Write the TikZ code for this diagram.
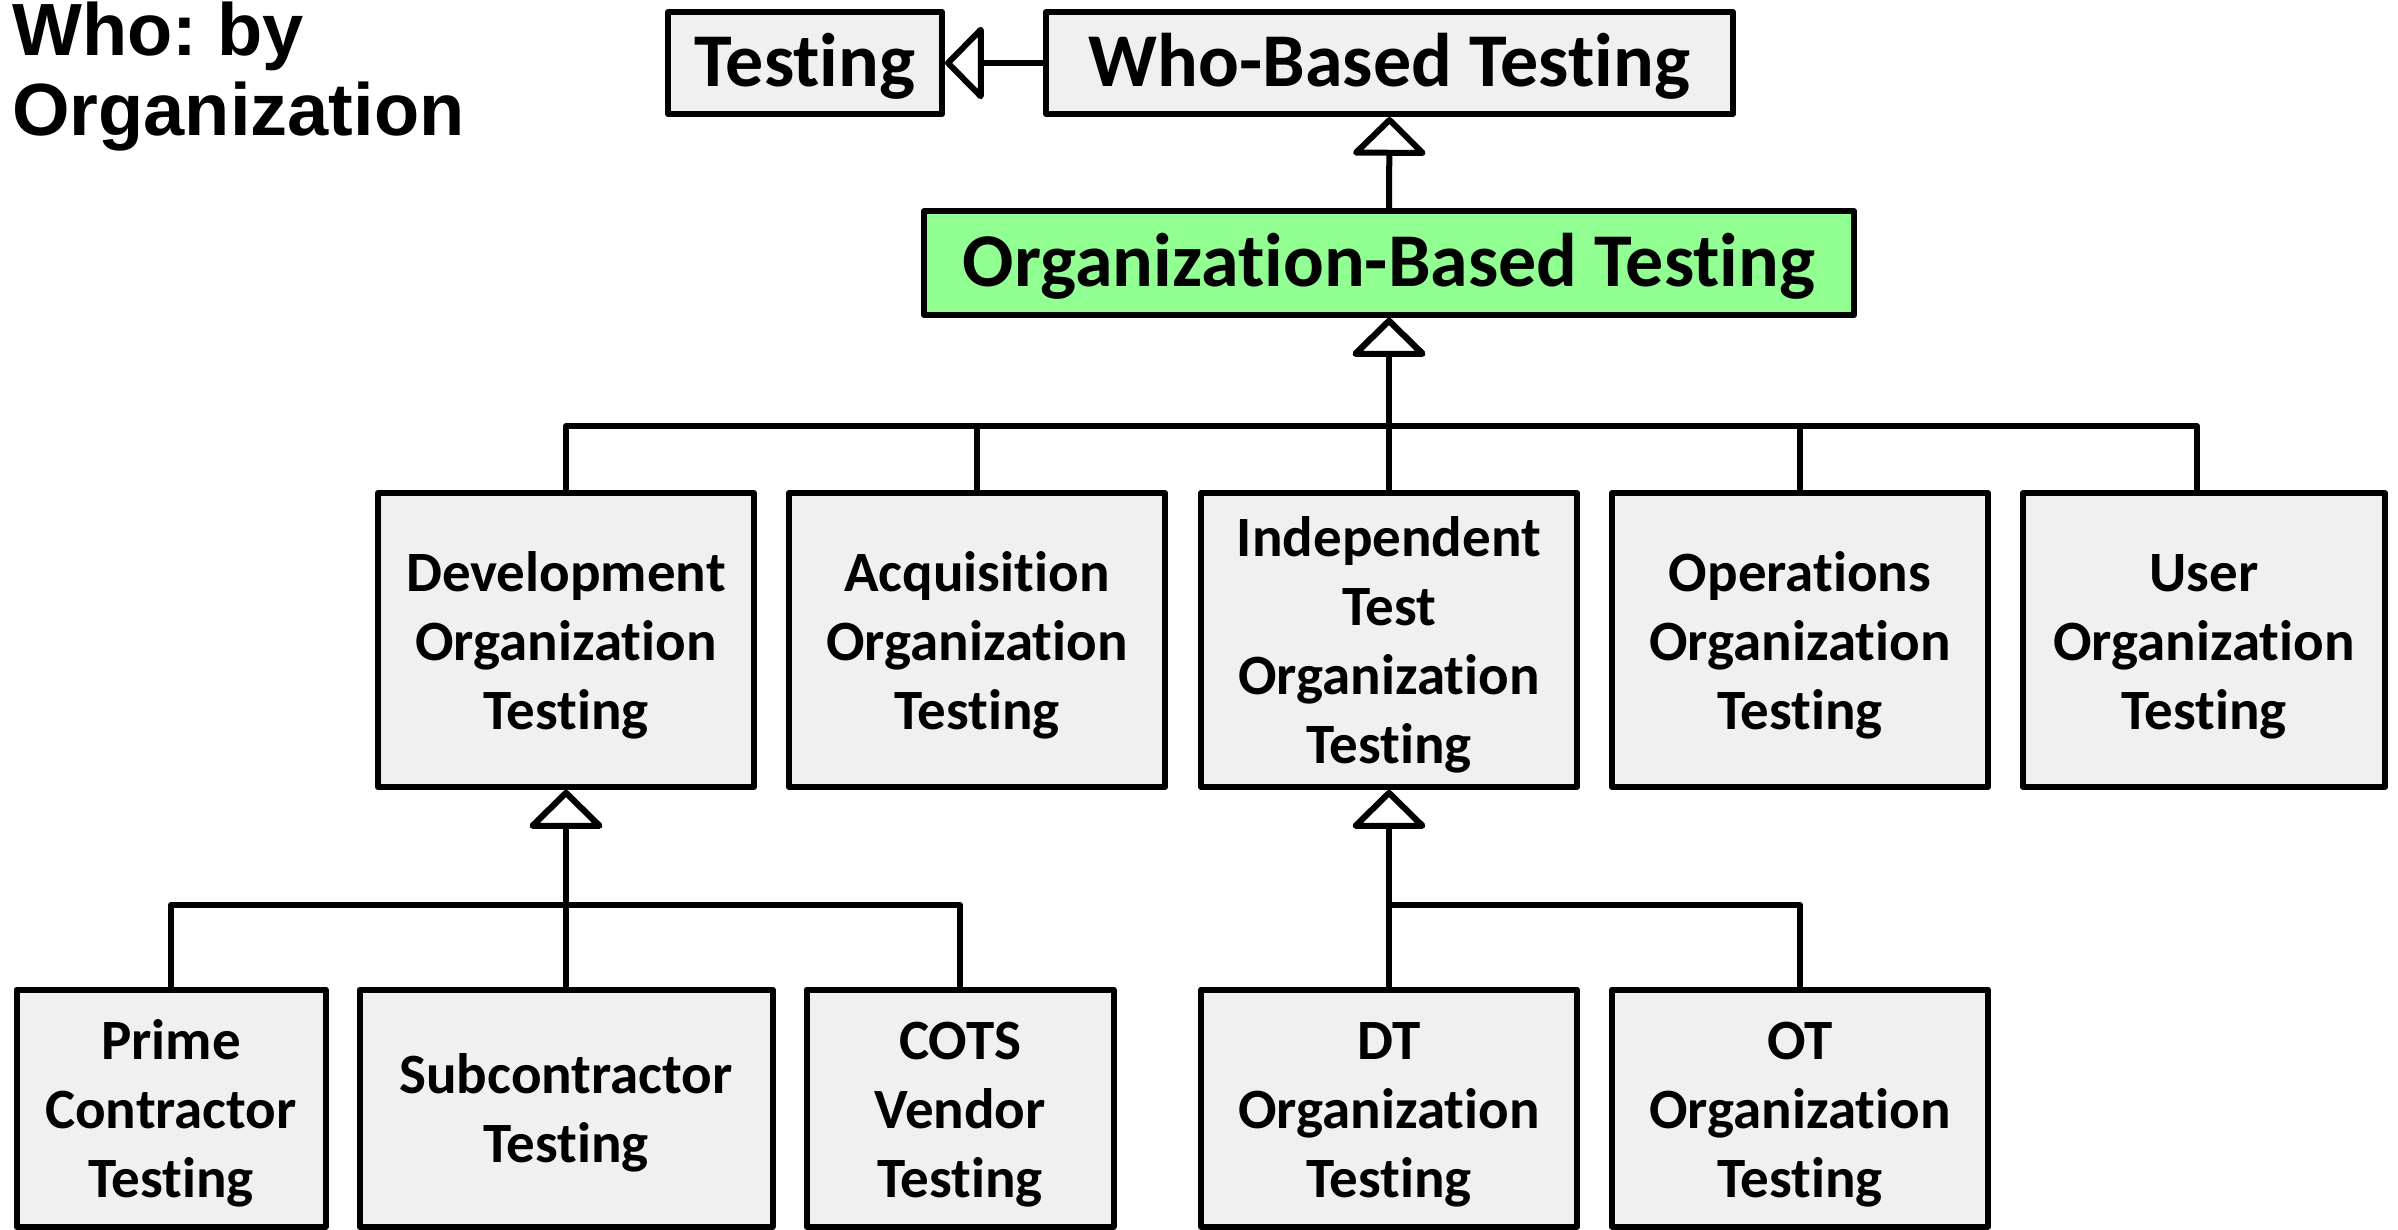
\documentclass[tikz,border=0pt]{standalone}
\usepackage{fontspec}
\newfontfamily\calfont{Carlito}[Ligatures=NoCommon]
\newfontfamily\arialfont{Liberation Sans}
\usetikzlibrary{arrows.meta}
\definecolor{boxgray}{RGB}{240,240,240}
\definecolor{orggreen}{RGB}{146,255,146}
\frenchspacing
\newcommand\rs{\rule{0pt}{0.88em}}
\begin{document}
\begin{tikzpicture}[x=1pt,y=-1pt,
  box/.style={draw=black, line width=6pt, line join=round, fill=boxgray, inner sep=0pt, align=center,
    font=\calfont\bfseries\fontsize{57}{69}\selectfont},
  topbox/.style={box, font=\calfont\bfseries\fontsize{76}{90}\selectfont,
    execute at begin node={\rule{0pt}{0.79em}}},
  row2/.style={box, minimum width=376pt, minimum height=294pt},
  row3/.style={box, minimum height=237pt},
  gen/.style={line width=6pt, line join=round,
    -{Triangle[round, length=40pt, width=80pt, fill=white]}},
]
\useasboundingbox (0,0) rectangle (2398,1229);

% title
\node[anchor=north west, inner sep=0pt, align=left,
  font=\arialfont\bfseries\fontsize{74}{80}\selectfont] (title) at (12,2) {Who: by\\Organization};

% top row
\node[topbox, minimum width=274pt, minimum height=102pt] (testing) at (805,63) {Testing};
\node[topbox, minimum width=687pt, minimum height=102pt] (who) at (1389.5,63) {Who-Based Testing};
\node[topbox, fill=orggreen, minimum width=930pt, minimum height=104pt] (org) at (1389,263) {Organization-Based Testing};

% second row
\node[row2] (dev) at (566,640) {\rs Development\\Organization\\Testing};
\node[row2] (acq) at (977,640) {\rs Acquisition\\Organization\\Testing};
\node[row2] (indep) at (1389,640) {\rs Independent\\Test\\Organization\\Testing};
\node[row2] (ops) at (1800,640) {\rs Operations\\Organization\\Testing};
\node[row2, minimum width=362pt] (user) at (2204,640) {\rs User\\Organization\\Testing};

% third row
\node[row3, minimum width=309pt] (prime) at (171,1108) {\rs Prime\\Contractor\\Testing};
\node[row3, minimum width=413pt] (sub) at (566,1108) {\rs Subcontractor\\Testing};
\node[row3, minimum width=307pt] (cots) at (960,1108) {\rs COTS\\Vendor\\Testing};
\node[row3, minimum width=376pt] (dt) at (1389,1108) {\rs DT\\Organization\\Testing};
\node[row3, minimum width=376pt] (ot) at (1800,1108) {\rs OT\\Organization\\Testing};

% connectors
\draw[gen] (who.west) -- (who.west -| testing.east);
\draw[gen] (org.north) -- (who.south);

\draw[gen] (dev.north) -- (dev.north |- 0,426) -| (org.south);
\draw[gen] (acq.north) -- (acq.north |- 0,426) -| (org.south);
\draw[gen] (indep.north) -- (org.south);
\draw[gen] (ops.north) -- (ops.north |- 0,426) -| (org.south);
\draw[gen] ([xshift=-7pt]user.north) -- ([xshift=-7pt]user.north |- 0,426) -| (org.south);

\draw[gen] (prime.north) -- (prime.north |- 0,905) -| (dev.south);
\draw[gen] (sub.north) -- (dev.south);
\draw[gen] (cots.north) -- (cots.north |- 0,905) -| (dev.south);

\draw[gen] (dt.north) -- (indep.south);
\draw[gen] (ot.north) -- (ot.north |- 0,905) -| (indep.south);
\end{tikzpicture}
\end{document}
